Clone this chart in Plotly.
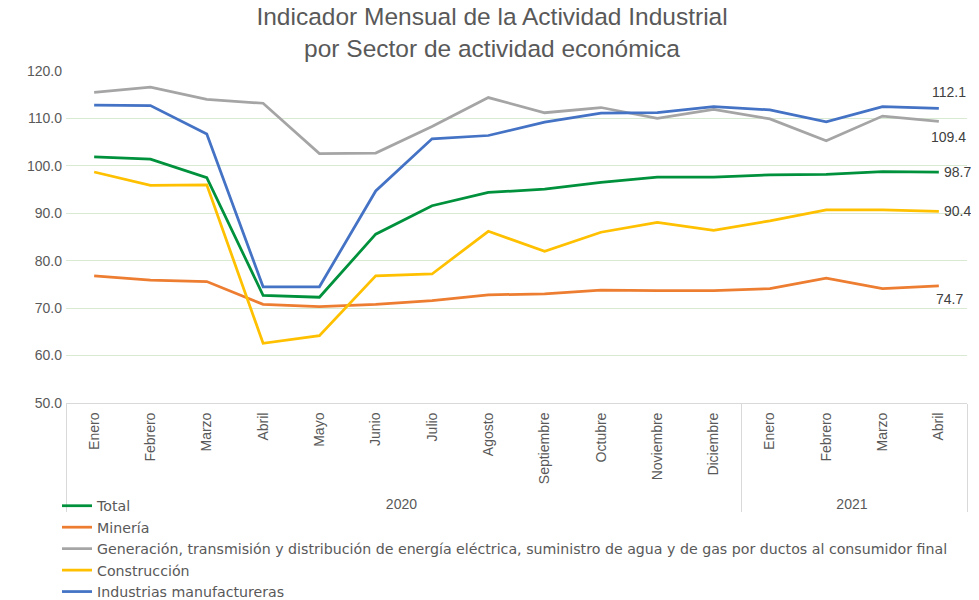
import plotly.graph_objects as go

# Datos (índice mensual)
anios = ["2020"] * 12 + ["2021"] * 4
meses = ["Enero", "Febrero", "Marzo", "Abril", "Mayo", "Junio", "Julio", "Agosto",
         "Septiembre", "Octubre", "Noviembre", "Diciembre",
         "Enero", "Febrero", "Marzo", "Abril"]

total = [101.9, 101.4, 97.5, 72.7, 72.3, 85.6, 91.6, 94.4, 95.1, 96.5, 97.6, 97.6, 98.1, 98.2, 98.8, 98.7]
mineria = [76.8, 75.9, 75.6, 70.8, 70.3, 70.8, 71.6, 72.8, 73.0, 73.8, 73.7, 73.7, 74.1, 76.3, 74.1, 74.7]
energia = [115.5, 116.6, 114.0, 113.2, 102.6, 102.7, 108.3, 114.4, 111.2, 112.3, 110.0, 111.9, 109.9, 105.3, 110.5, 109.4]
construccion = [98.7, 95.9, 96.0, 62.6, 64.2, 76.8, 77.2, 86.2, 82.0, 86.0, 88.1, 86.4, 88.4, 90.7, 90.7, 90.4]
manufactura = [112.8, 112.7, 106.7, 74.5, 74.5, 94.7, 105.7, 106.4, 109.2, 111.1, 111.2, 112.5, 111.8, 109.3, 112.5, 112.1]

FUENTE = "Liberation Sans, Arial, sans-serif"
# la página tiene 8px de margen en el body: la figura se desplaza 8px
W, H = 971, 600

# nombre, valores, color, (xanchor, xshift, yshift) de la etiqueta del último mes
series = [
    ("Total", total, "#00913C", ("left", 3, 0)),
    ("Minería", mineria, "#ED7D31", ("center", 11, -13)),
    ("Generación, transmisión y distribución de energía eléctrica, suministro de agua y de gas por ductos al consumidor final",
     energia, "#A5A5A5", ("center", 10, -16)),
    ("Construcción", construccion, "#FFC000", ("left", 3, 0)),
    ("Industrias manufactureras", manufactura, "#4472C4", ("center", 10, 16)),
]

fig = go.Figure()
for nombre, vals, color, (xa, dx, dy) in series:
    fig.add_trace(go.Scatter(
        x=[anios, meses], y=vals, name=nombre, mode="lines",
        line=dict(color=color, width=2.75),
    ))
    # sólo se rotula el último mes
    fig.add_annotation(
        x=len(vals) - 1, y=vals[-1], text=f"{vals[-1]:.1f}", showarrow=False,
        xanchor=xa, yanchor="middle", xshift=dx, yshift=dy,
        font=dict(family=FUENTE, size=14, color="#404040"),
    )

# margen cero y área de trazado fijada con domain (la leyenda no empuja márgenes)
fig.update_layout(
    width=W, height=H,
    paper_bgcolor="white", plot_bgcolor="white",
    margin=dict(l=0, r=0, t=0, b=0, pad=0),
    title=dict(
        text="Indicador Mensual de la Actividad Industrial<br>por Sector de actividad económica",
        x=0.4985, xanchor="center", y=0.972, yanchor="top",
        font=dict(family=FUENTE, size=24.5, color="#595959"),
    ),
    font=dict(family=FUENTE, color="#595959"),
    xaxis=dict(
        type="multicategory", tickangle=-90, showgrid=False, automargin=False,
        range=[-0.5, len(meses) - 0.5],
        domain=[58 / W, 959 / W],
        showline=True, linecolor="#D9D9D9", linewidth=1,
        showdividers=True, dividercolor="#D9D9D9", dividerwidth=1,
        ticks="", ticklabelstandoff=3, tickfont=dict(size=14, color="#595959"),
    ),
    yaxis=dict(
        range=[50, 120], dtick=10, tickformat=".1f", automargin=False,
        domain=[(H - 395) / H, (H - 63) / H],
        showgrid=True, gridcolor="#D9EAD3", gridwidth=1,
        zeroline=False, showline=False, ticks="", ticklabelstandoff=3,
        tickfont=dict(size=14, color="#595959"),
    ),
    legend=dict(
        orientation="v", x=49 / W, xanchor="left", y=0, yanchor="bottom",
        font=dict(family="DejaVu Sans, sans-serif", size=14.2, color="#595959"),
        tracegroupgap=0, bgcolor="rgba(0,0,0,0)",
    ),
    showlegend=True,
)

fig.write_html("out.html")
